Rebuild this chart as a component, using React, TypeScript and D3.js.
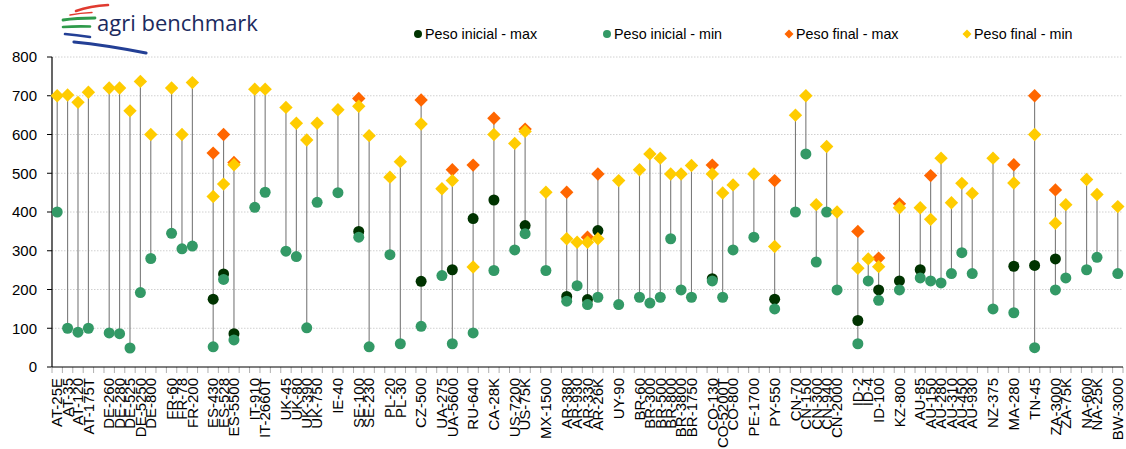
import React from 'react';
import * as d3 from 'd3';

const categories: string[] = [
  'AT-25E', 'AT-35', 'AT-120', 'AT-175T', '',
  'DE-260', 'DE-280', 'DE-525', 'DE-5250', 'DE-800', '',
  'FR-60', 'FR-78', 'FR-200', '',
  'ES-430', 'ES-528', 'ES-5500', '',
  'IT-910', 'IT-2660T', '',
  'UK-45', 'UK-80', 'UK-390', 'UK-750', '',
  'IE-40', '',
  'SE-100', 'SE-230', '',
  'PL-20', 'PL-30', '',
  'CZ-500', '',
  'UA-275', 'UA-5600', '',
  'RU-640', '',
  'CA-28K', '',
  'US-7200', 'US-75K', '',
  'MX-1500', '',
  'AR-380', 'AR-930', 'AR-330', 'AR-26K', '',
  'UY-90', '',
  'BR-60', 'BR-300', 'BR-500', 'BR-800', 'BR-3800', 'BR-1750', '',
  'CO-130', 'CO-5200T', 'CO-800', '',
  'PE-1700', '',
  'PY-550', '',
  'CN-70', 'CN-150', 'CN-300', 'CN-940', 'CN-2000', '',
  'ID-2', 'ID-4', 'ID-100', '',
  'KZ-800', '',
  'AU-85', 'AU-150', 'AU-280', 'AU-310', 'AU-450', 'AU-930', '',
  'NZ-375', '',
  'MA-280', '',
  'TN-45', '',
  'ZA-3000', 'ZA-75K', '',
  'NA-600', 'NA-25K', '',
  'BW-3000',
];

type V = number | null;
const _ = null;

const pesoInicialMax: V[] = [
  _, _, _, _, _,
  _, _, _, _, _, _,
  _, _, _, _,
  175, 240, 86, _,
  _, _, _,
  _, _, _, _, _,
  _, _,
  350, _, _,
  _, _, _,
  221, _,
  _, 251, _,
  383, _,
  431, _,
  _, 365, _,
  _, _,
  182, _, 174, 352, _,
  _, _,
  _, _, _, _, _, _, _,
  228, _, _, _,
  _, _,
  175, _,
  _, _, _, _, _, _,
  120, _, 199, _,
  222, _,
  251, _, _, _, _, _, _,
  _, _,
  260, _,
  262, _,
  279, _, _,
  _, _, _,
  _,
];

const pesoInicialMin: V[] = [
  400, 100, 90, 100, _,
  88, 86, 49, 192, 280, _,
  345, 305, 312, _,
  52, 226, 70, _,
  412, 451, _,
  299, 285, 101, 425, _,
  450, _,
  335, 52, _,
  290, 60, _,
  105, _,
  236, 60, _,
  88, _,
  249, _,
  302, 344, _,
  249, _,
  170, 210, 161, 180, _,
  161, _,
  180, 165, 180, 331, 199, 180, _,
  222, 180, 302, _,
  335, _,
  150, _,
  400, 550, 271, 400, 199, _,
  60, 222, 172, _,
  199, _,
  230, 222, 217, 241, 295, 241, _,
  150, _,
  140, _,
  50, _,
  199, 230, _,
  251, 283, _,
  241,
];

const pesoFinalMax: V[] = [
  _, _, _, _, _,
  _, _, _, _, _, _,
  _, _, _, _,
  552, 600, 528, _,
  _, _, _,
  _, _, _, _, _,
  _, _,
  693, _, _,
  _, _, _,
  689, _,
  _, 509, _,
  521, _,
  642, _,
  _, 614, _,
  _, _,
  451, _, 335, 498, _,
  _, _,
  _, _, _, _, _, _, _,
  521, _, _, _,
  _, _,
  481, _,
  _, _, _, _, _, _,
  350, _, 281, _,
  421, _,
  _, 494, _, _, _, _, _,
  _, _,
  522, _,
  700, _,
  457, _, _,
  _, _, _,
  _,
];

const pesoFinalMin: V[] = [
  700, 702, 683, 709, _,
  720, 720, 661, 737, 600, _,
  720, 600, 734, _,
  440, 472, 522, _,
  717, 717, _,
  670, 629, 586, 629, _,
  664, _,
  673, 597, _,
  490, 530, _,
  627, _,
  460, 481, _,
  258, _,
  600, _,
  577, 608, _,
  451, _,
  331, 322, 322, 331, _,
  481, _,
  509, 550, 539, 498, 498, 520, _,
  498, 449, 470, _,
  498, _,
  311, _,
  650, 700, 419, 569, 400, _,
  255, 279, 259, _,
  411, _,
  411, 381, 539, 424, 474, 448, _,
  539, _,
  475, _,
  600, _,
  371, 419, _,
  484, 445, _,
  414,
];

const yTicks: number[] = [0, 100, 200, 300, 400, 500, 600, 700, 800];

const seriesNames: string[] = ['Peso inicial - max', 'Peso inicial - min', 'Peso final - max', 'Peso final - min'];
const seriesColors: string[] = ['#003300', '#339966', '#FF6600', '#FFCC00'];
const seriesShapes: string[] = ['circle', 'circle', 'diamond', 'diamond'];

const FONT = '"Liberation Sans", Arial, Helvetica, sans-serif';

export default function App() {
  const W = 1126;
  const H = 449;
  const left = 52;
  const right = 1123;
  const top = 57;
  const bottom = 367;

  const idx = d3.range(categories.length);
  const x = d3.scaleBand<number>().domain(idx).range([left, right]).padding(0);
  const y = d3.scaleLinear().domain([0, 800]).range([bottom, top]);
  const cx = (i: number) => (x(i) as number) + x.bandwidth() / 2;

  const allSeries: V[][] = [pesoInicialMax, pesoInicialMin, pesoFinalMax, pesoFinalMin];

  const diamond = (px: number, py: number, r: number) =>
    `M${px},${py - r}L${px + r},${py}L${px},${py + r}L${px - r},${py}Z`;

  const legendX = [418, 607, 789, 967];

  return (
    <svg width={W} height={H} style={{ position: 'absolute', left: 0, top: 0, background: '#fff' }} fontFamily={FONT}>
      <rect x={0} y={0} width={W} height={H} fill="#fff" />
      {/* logo */}
      <g>
        <path d="M76,11 Q90,6 108,5" stroke="#e03a2f" strokeWidth={2.6} fill="none" strokeLinecap="round" />
        <path d="M70,15 Q80,13 92,12.5" stroke="#e03a2f" strokeWidth={1.4} fill="none" strokeLinecap="round" />
        <path d="M63,20 Q76,18 95,18" stroke="#2e9a4a" strokeWidth={2.8} fill="none" strokeLinecap="round" />
        <path d="M63,27 Q76,26 90,26.5" stroke="#2e9a4a" strokeWidth={2.6} fill="none" strokeLinecap="round" />
        <path d="M65,34 Q76,35 90,37" stroke="#233f95" strokeWidth={2.6} fill="none" strokeLinecap="round" />
        <path d="M74,42 Q105,45 146,53" stroke="#233f95" strokeWidth={3.2} fill="none" strokeLinecap="round" />
        <text x={97} y={31} fontSize={22} fill="#1b2a5e" fontFamily={'"Open Sans", "Liberation Sans", Arial, sans-serif'}>agri benchmark</text>
      </g>

      {/* gridlines */}
      {yTicks.filter((t) => t > 0).map((t) => (
        <line key={'g' + t} x1={left} x2={right} y1={y(t)} y2={y(t)} stroke="#d0d0d0" strokeWidth={1} strokeDasharray="1.5 1.5" />
      ))}

      {/* y axis */}
      <line x1={left} x2={left} y1={top} y2={bottom} stroke="#000" strokeWidth={1.2} />
      {yTicks.map((t) => (
        <g key={'y' + t}>
          <line x1={left - 5} x2={left} y1={y(t)} y2={y(t)} stroke="#000" strokeWidth={1} />
          <text x={37} y={y(t)} dy="0.35em" textAnchor="end" fontSize={15} fill="#000">{t}</text>
        </g>
      ))}

      {/* x axis ticks */}
      {d3.range(categories.length + 1).map((k) => {
        const xx = left + k * x.bandwidth();
        return <line key={'xt' + k} x1={xx} x2={xx} y1={bottom} y2={bottom + 6} stroke="#b0b0b0" strokeWidth={1} />;
      })}
      <line x1={left} x2={right} y1={bottom} y2={bottom} stroke="#000" strokeWidth={1.2} />

      {/* x labels */}
      {categories.map((c, i) =>
        c ? (
          <text key={'xl' + i} transform={`translate(${cx(i)},${378}) rotate(-90)`} textAnchor="end" dy="0.35em" fontSize={15} fill="#000">
            {c}
          </text>
        ) : null
      )}

      {/* high-low lines */}
      {categories.map((c, i) => {
        const vals = allSeries.map((s) => s[i]).filter((v): v is number => v !== null);
        if (vals.length < 2) return null;
        const lo = d3.min(vals) as number;
        const hi = d3.max(vals) as number;
        return <line key={'hl' + i} x1={cx(i)} x2={cx(i)} y1={y(lo)} y2={y(hi)} stroke="#7a7a7a" strokeWidth={1.1} />;
      })}

      {/* markers */}
      {allSeries.map((s, si) => (
        <g key={'s' + si}>
          {s.map((v, i) => {
            if (v === null) return null;
            const px = cx(i);
            const py = y(v);
            return seriesShapes[si] === 'circle' ? (
              <circle key={i} cx={px} cy={py} r={5.5} fill={seriesColors[si]} />
            ) : (
              <path key={i} d={diamond(px, py, 6.7)} fill={seriesColors[si]} />
            );
          })}
        </g>
      ))}

      {/* legend */}
      {seriesNames.map((n, si) => {
        const lx = legendX[si];
        const ly = 34;
        return (
          <g key={'lg' + si}>
            {seriesShapes[si] === 'circle' ? (
              <circle cx={lx} cy={ly} r={4} fill={seriesColors[si]} />
            ) : (
              <path d={diamond(lx, ly, 4.5)} fill={seriesColors[si]} />
            )}
            <text x={lx + 7} y={ly} dy="0.35em" fontSize={14.3} fill="#000">{n}</text>
          </g>
        );
      })}
    </svg>
  );
}
